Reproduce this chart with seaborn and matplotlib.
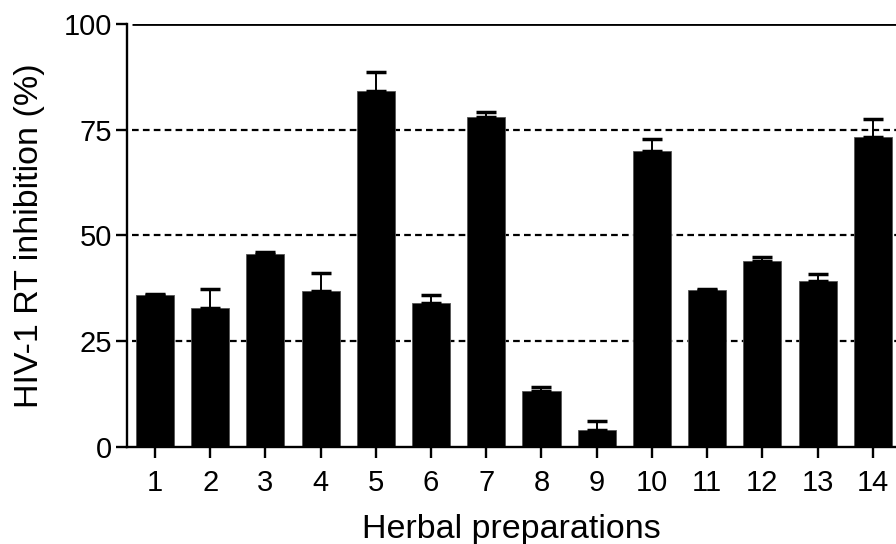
import matplotlib
matplotlib.use("Agg")
import matplotlib.pyplot as plt
import seaborn as sns
import pandas as pd
import numpy as np

# Herbal preparation numbers and their HIV-1 RT inhibition (mean, upper error)
preparations = ["1", "2", "3", "4", "5", "6", "7", "8", "9", "10", "11", "12", "13", "14"]
inhibition = [35.9, 32.8, 45.7, 36.8, 84.2, 34.1, 77.9, 13.2, 4.0, 70.0, 37.0, 43.9, 39.2, 73.4]
error = [0.3, 4.5, 0.5, 4.3, 4.4, 1.8, 1.2, 0.9, 2.1, 2.7, 0.4, 1.1, 1.8, 4.1]
y_ticks = [0, 25, 50, 75, 100]

sns.set_theme(style="white")
plt.rcParams["font.family"] = ["Liberation Sans", "DejaVu Sans"]

df = pd.DataFrame({"prep": preparations, "inh": inhibition})

fig = plt.figure(figsize=(8.96, 5.44), dpi=100)
ax = fig.add_axes([0.1417, 0.1783, 0.8583, 0.7776])

# reference lines: solid at 100, dashed at the quarter marks
x_left, x_right = -0.507, 13.42
ax.hlines([100], x_left + 0.1, x_right, colors="black", linewidth=2.0, zorder=0)
ax.hlines([25, 50, 75], x_left + 0.1, x_right, colors="black", linewidth=1.6,
          linestyles=[(0, (3.0, 1.9))], zorder=0)

sns.barplot(data=df, x="prep", y="inh", color="black", width=0.69,
            edgecolor="#555555", linewidth=0.6, errorbar=None, ax=ax, zorder=2)

# one-sided (upper) error bars at the bar centres
centres = [p.get_x() + p.get_width() / 2 for p in ax.patches]
heights = [p.get_height() for p in ax.patches]
ax.errorbar(centres, heights, yerr=[np.zeros(len(error)), error], fmt="none",
            ecolor="black", elinewidth=1.4, capsize=7.2, capthick=2.5, zorder=3)

ax.set_xlim(x_left, x_right)
ax.set_ylim(0, 100)
ax.set_yticks(y_ticks)
ax.set_yticklabels([str(t) for t in y_ticks])

for side in ["top", "right"]:
    ax.spines[side].set_visible(False)
for side in ["left", "bottom"]:
    ax.spines[side].set_color("black")
    ax.spines[side].set_linewidth(1.7)
    ax.spines[side].set_zorder(4)

ax.tick_params(axis="both", which="major", direction="out", length=8, width=1.7,
               color="black", labelsize=21, labelcolor="black", bottom=True, left=True)
ax.tick_params(axis="y", pad=3)
ax.tick_params(axis="x", pad=8)

ax.set_xlabel("Herbal preparations", fontsize=24.5, color="black", labelpad=12)
ax.set_ylabel("HIV-1 RT inhibition (%)", fontsize=24.5, color="black", labelpad=13)

fig.savefig("out.png", dpi=100, facecolor="white")
